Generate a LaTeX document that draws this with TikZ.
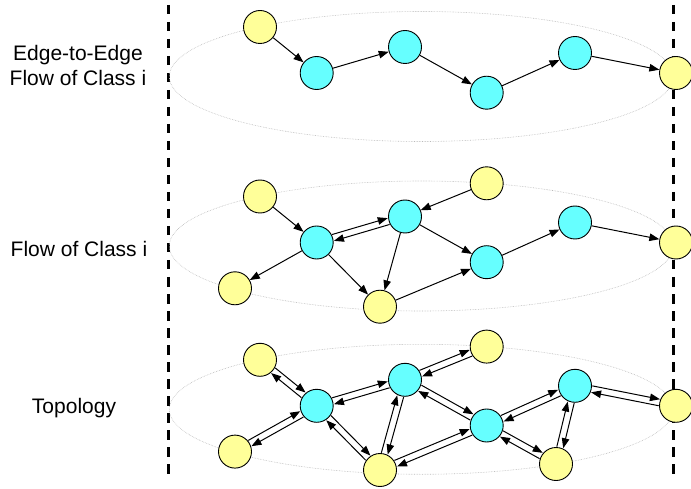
\documentclass[tikz,border=0pt]{standalone}
\usepackage{fontspec}
\setmainfont{Liberation Sans}
\usetikzlibrary{arrows.meta,calc}

\definecolor{nodeyellow}{HTML}{FFFF99}
\definecolor{nodecyan}{HTML}{66FFFF}

% pair of opposite arrows, offset on both sides of the centre line
\newcommand{\twoway}[2]{%
  \draw[arrow, shorten <=17pt, shorten >=17pt] ($(#1.center)!3.3pt!90:(#2.center)$) -- ($(#2.center)!3.3pt!-90:(#1.center)$);
  \draw[arrow, shorten <=17pt, shorten >=17pt] ($(#2.center)!3.3pt!90:(#1.center)$) -- ($(#1.center)!3.3pt!-90:(#2.center)$);
}

\begin{document}
\begin{tikzpicture}[
  x=1pt, y=-1pt,
  ynode/.style={circle, draw, line width=0.9pt, fill=nodeyellow, minimum size=33pt, inner sep=0pt},
  cnode/.style={circle, draw, line width=0.9pt, fill=nodecyan, minimum size=33pt, inner sep=0pt},
  arrow/.style={-{Triangle[length=10pt,width=7.5pt]}, line width=1pt},
  shell/.style={draw=gray!55, densely dotted, line width=0.6pt},
  border/.style={line width=3pt, dash pattern=on 9.5pt off 7.5pt},
  layertext/.style={font=\fontsize{21}{25}\selectfont, align=center, inner sep=0pt}
]
\useasboundingbox (0,0) rectangle (691,489);

% domain borders
\coordinate (lt) at (168.3,5);
\coordinate (lb) at (168.3,478);
\coordinate (rt) at (673.3,5);
\coordinate (rb) at (673.3,478);
\draw[border] (lt) -- (lb);
\draw[border] (rt) -- (rb);

% layer names
\node[layertext] (ename) at (78,65.4) {Edge-to-Edge\\Flow of Class i};
\node[layertext, anchor=base] (fname) at (79,257) {Flow of Class i};
\node[layertext, anchor=base] (tname) at (74,413) {Topology};

% edge-to-edge flow
\draw[shell] (421.3,76.5) ellipse [x radius=252pt, y radius=65pt];
\node[ynode] (e-in) at (260,27) {};
\node[cnode] (e-c1) at (316.7,73) {};
\node[cnode] (e-c2) at (405,47) {};
\node[cnode] (e-c3) at (486.7,92.7) {};
\node[cnode] (e-c4) at (575,53) {};
\node[ynode] (e-out) at (676,73) {};

\draw[arrow] (e-in) -- (e-c1);
\draw[arrow] (e-c1) -- (e-c2);
\draw[arrow] (e-c2) -- (e-c3);
\draw[arrow] (e-c3) -- (e-c4);
\draw[arrow] (e-c4) -- (e-out);

% flow of the class
\begin{scope}[shift={(0,169.5)}]
\draw[shell] (421.3,76.5) ellipse [x radius=252pt, y radius=65pt];
\node[ynode] (f-in) at (260,27) {};
\node[ynode] (f-nr) at (486.7,13.8) {};
\node[cnode] (f-c1) at (316.7,73) {};
\node[cnode] (f-c2) at (405,47) {};
\node[cnode] (f-c3) at (486.7,92.7) {};
\node[cnode] (f-c4) at (575,53) {};
\node[ynode] (f-out) at (676,73) {};
\node[ynode] (f-sw) at (235,118.8) {};
\node[ynode] (f-s) at (380,137.2) {};
\end{scope}

\draw[arrow] (f-in) -- (f-c1);
\draw[arrow] (f-nr) -- (f-c2);
\twoway{f-c1}{f-c2}
\draw[arrow] (f-c1) -- (f-sw);
\draw[arrow] (f-c1) -- (f-s);
\draw[arrow] (f-c2) -- (f-s);
\draw[arrow] (f-c2) -- (f-c3);
\draw[arrow] (f-s) -- (f-c3);
\draw[arrow] (f-c3) -- (f-c4);
\draw[arrow] (f-c4) -- (f-out);

% topology
\begin{scope}[shift={(0,332.8)}]
\draw[shell] (421.3,76.5) ellipse [x radius=252pt, y radius=65pt];
\node[ynode] (t-in) at (260,27) {};
\node[ynode] (t-nr) at (486.7,13.8) {};
\node[cnode] (t-c1) at (316.7,73) {};
\node[cnode] (t-c2) at (405,47) {};
\node[cnode] (t-c3) at (486.7,92.7) {};
\node[cnode] (t-c4) at (575,53) {};
\node[ynode] (t-out) at (676,73) {};
\node[ynode] (t-sw) at (235,118.8) {};
\node[ynode] (t-s) at (380,137.2) {};
\node[ynode] (t-se) at (556,131.2) {};
\end{scope}

\twoway{t-in}{t-c1}
\twoway{t-sw}{t-c1}
\twoway{t-c1}{t-c2}
\twoway{t-c1}{t-s}
\twoway{t-c2}{t-nr}
\twoway{t-c2}{t-s}
\twoway{t-c2}{t-c3}
\twoway{t-s}{t-c3}
\twoway{t-c3}{t-c4}
\twoway{t-c3}{t-se}
\twoway{t-c4}{t-se}
\twoway{t-c4}{t-out}
\end{tikzpicture}
\end{document}
